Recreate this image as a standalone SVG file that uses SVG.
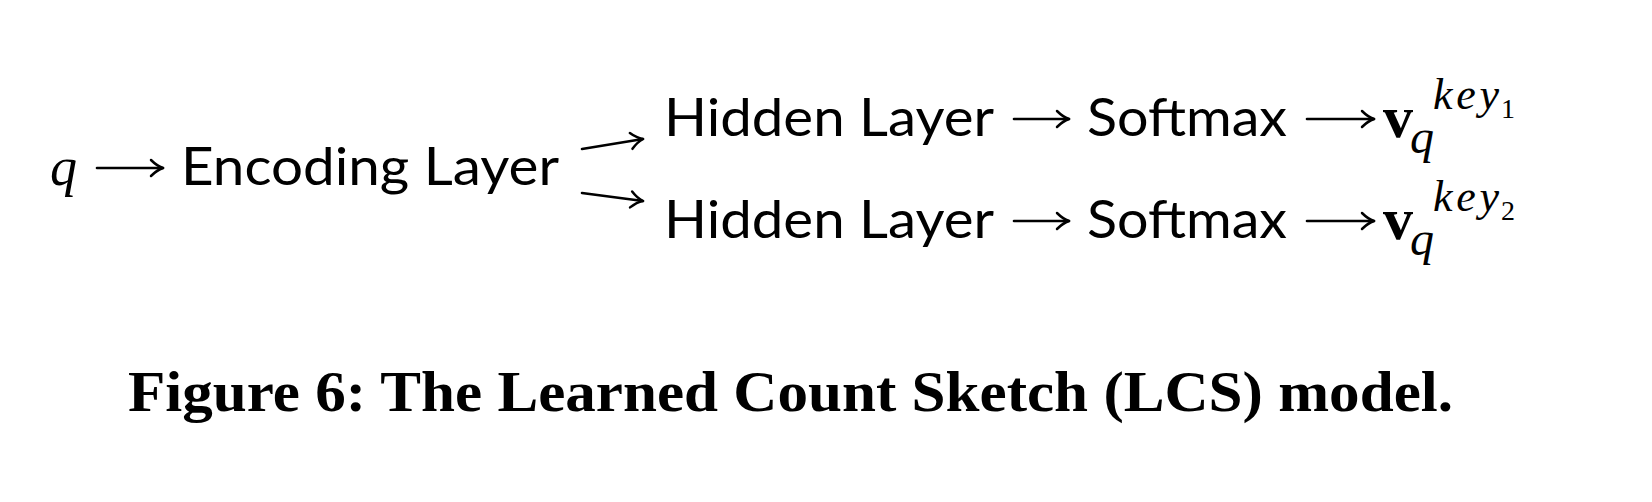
<svg xmlns="http://www.w3.org/2000/svg" width="1652" height="502" viewBox="0 0 1652 502">
<style>
.t{font-family:Lato,"Noto Sans","Liberation Sans",sans-serif;font-size:53px;fill:#000}
.m{font-family:"Liberation Serif","DejaVu Serif",serif;font-style:italic;fill:#000}
.b{font-family:"Liberation Serif","DejaVu Serif",serif;font-weight:bold;fill:#000}
.s{font-family:"Liberation Serif","DejaVu Serif",serif;font-size:28px;fill:#000}
.a{fill:none;stroke:#000;stroke-width:2.6;stroke-linecap:round}
</style>
<defs>
<marker id="ah" markerWidth="20" markerHeight="20" refX="14" refY="10" orient="auto" markerUnits="userSpaceOnUse">
<path d="M2,2 Q8,8 14,10 Q8,12 2,18" fill="none" stroke="#000" stroke-width="2.5" stroke-linecap="round" stroke-linejoin="round"/>
</marker>
</defs>
<rect width="1652" height="502" fill="#fff"/>
<g id="q"><text class="m" x="50" y="185" font-size="54">q</text></g>
<g id="encoding"><text class="t" x="181" y="185" textLength="378" lengthAdjust="spacingAndGlyphs">Encoding Layer</text></g>
<g id="hidden1"><text class="t" x="664" y="136" textLength="330" lengthAdjust="spacingAndGlyphs">Hidden Layer</text></g>
<g id="hidden2"><text class="t" x="664" y="238" textLength="330" lengthAdjust="spacingAndGlyphs">Hidden Layer</text></g>
<g id="softmax1"><text class="t" x="1087" y="136" textLength="200" lengthAdjust="spacingAndGlyphs">Softmax</text></g>
<g id="softmax2"><text class="t" x="1087" y="238" textLength="200" lengthAdjust="spacingAndGlyphs">Softmax</text></g>
<g id="v1">
<text class="b" x="1383" y="137" font-size="60">v</text>
<text class="m" x="1410" y="153" font-size="48">q</text>
<text class="m" x="1433" y="109" font-size="44" textLength="66" lengthAdjust="spacing">key</text>
<text class="s" x="1501" y="118">1</text>
</g>
<g id="v2">
<text class="b" x="1383" y="239" font-size="60">v</text>
<text class="m" x="1410" y="255" font-size="48">q</text>
<text class="m" x="1433" y="211" font-size="44" textLength="66" lengthAdjust="spacing">key</text>
<text class="s" x="1501" y="220">2</text>
</g>
<g id="connectors">
<line class="a" x1="97" y1="168" x2="163" y2="168" marker-end="url(#ah)"/>
<line class="a" x1="582" y1="149" x2="643" y2="139" marker-end="url(#ah)"/>
<line class="a" x1="582" y1="193" x2="643" y2="201" marker-end="url(#ah)"/>
<line class="a" x1="1014" y1="119" x2="1069" y2="119" marker-end="url(#ah)"/>
<line class="a" x1="1014" y1="221" x2="1069" y2="221" marker-end="url(#ah)"/>
<line class="a" x1="1307" y1="119" x2="1374" y2="119" marker-end="url(#ah)"/>
<line class="a" x1="1307" y1="221" x2="1374" y2="221" marker-end="url(#ah)"/>
</g>
<g id="caption"><text class="b" x="128" y="411" font-size="56" textLength="1325" lengthAdjust="spacingAndGlyphs">Figure 6: The Learned Count Sketch (LCS) model.</text></g>
</svg>
